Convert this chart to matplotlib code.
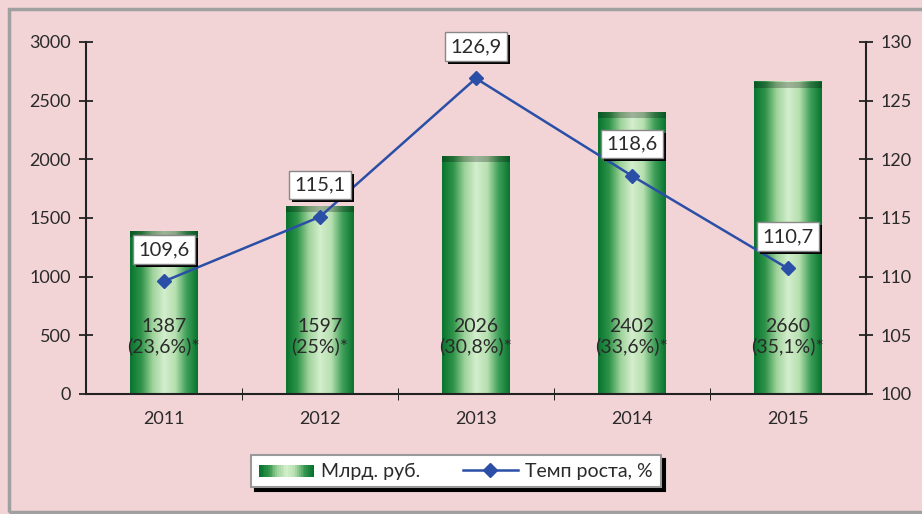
import numpy as np
import matplotlib
matplotlib.use("Agg")
import matplotlib.pyplot as plt
from matplotlib.colors import LinearSegmentedColormap
from matplotlib.patches import Rectangle
from matplotlib.lines import Line2D
from matplotlib.legend_handler import HandlerBase
import matplotlib.patheffects as pe

plt.rcParams['font.family'] = ['Lato', 'DejaVu Sans']

# данные
years = ['2011', '2012', '2013', '2014', '2015']
volume = [1387, 1597, 2026, 2402, 2660]          # Млрд. руб.
shares = ['(23,6%)*', '(25%)*', '(30,8%)*', '(33,6%)*', '(35,1%)*']
growth = [109.6, 115.1, 126.9, 118.6, 110.7]     # Темп роста, %
growth_labels = ['109,6', '115,1', '126,9', '118,6', '110,7']

bg = '#f2d4d6'
line_col = '#2b4fa6'
text_col = '#2a2a2a'
green = LinearSegmentedColormap.from_list(
    'cyl', ['#08742f', '#2f9449', '#9ed29a', '#d4eecd', '#b6e0b0', '#3f9f58', '#08742f'])
grad = green(np.linspace(0, 1, 256))[np.newaxis, :, :]


class GradHandler(HandlerBase):
    def create_artists(self, legend, orig, xd, yd, w, h, fs, trans):
        n = 30
        arts = []
        for i in range(n):
            r = Rectangle((xd + w * i / n, yd - h * 0.05), w / n + 0.3, h * 0.9,
                          facecolor=green(i / (n - 1)), edgecolor='none', transform=trans)
            arts.append(r)
        return arts


fig = plt.figure(figsize=(9.22, 5.14), dpi=100, facecolor=bg)
ax1 = fig.add_axes([0.0933, 0.2335, 0.8457, 0.6848])
ax1.set_facecolor(bg)
ax2 = ax1.twinx()

x = np.arange(len(years))
w = 0.43
bars = ax1.bar(x, volume, width=w, color='none', edgecolor='none', zorder=2)
cap = grad.copy()
cap[..., :3] *= 0.75
for b in bars:
    x0 = b.get_x()
    ax1.imshow(grad, extent=(x0, x0 + b.get_width(), 0, b.get_height()),
               aspect='auto', zorder=2)
    top = b.get_height()
    ax1.imshow(cap, extent=(x0, x0 + b.get_width(), top - 50, top),
               aspect='auto', zorder=2)

for xi, v, s in zip(x, volume, shares):
    ax1.text(xi, 490, f'{v}\n{s}', ha='center', va='center', fontsize=14,
             color=text_col, linespacing=1.15, zorder=3)

ax1.set_xlim(-0.5, 4.5)
ax1.set_ylim(0, 3000)
ax1.set_yticks(np.arange(0, 3001, 500))
ax1.set_xticks(x)
ax1.set_xticklabels(years)
ax1.set_xticks(np.arange(0.5, 4, 1), minor=True)

ax2.plot(x, growth, color=line_col, lw=1.8, marker='D', markersize=7, zorder=3)
ax2.set_ylim(100, 130)
ax2.set_yticks(np.arange(100, 131, 5))

for xi, g, lab in zip(x, growth, growth_labels):
    t = ax2.annotate(lab, (xi, g), xytext=(0, 23), textcoords='offset points',
                     ha='center', va='center', fontsize=14.5, color=text_col, zorder=5,
                     bbox=dict(boxstyle='square,pad=0.28', fc='white', ec='#888888', lw=1))
    t.get_bbox_patch().set_path_effects([
        pe.SimplePatchShadow(offset=(2.2, -2.2), shadow_rgbFace='black', alpha=1),
        pe.Normal()])

for ax in (ax1, ax2):
    for sp in ax.spines.values():
        sp.set_color('#222222')
        sp.set_linewidth(1.5)
    ax.spines['top'].set_visible(False)
    ax.tick_params(colors='#222222', labelcolor=text_col, labelsize=13, width=1.3)
ax1.spines['right'].set_visible(False)
ax2.spines['left'].set_visible(False)
ax2.spines['bottom'].set_visible(False)
ax1.tick_params(axis='y', direction='inout', length=9.5, pad=6)
ax2.tick_params(axis='y', direction='inout', length=9.5, pad=6)
ax1.tick_params(axis='x', which='major', length=0, pad=12)
ax1.tick_params(axis='x', which='minor', direction='inout', length=9)

handles = [Rectangle((0, 0), 1, 1),
           Line2D([], [], color=line_col, lw=1.8, marker='D', markersize=7)]
leg = fig.legend(handles, ['Млрд. руб.', 'Темп роста, %'], loc='center',
                 bbox_to_anchor=(456 / 922, 1 - 471 / 514), ncol=2, fontsize=14,
                 handler_map={Rectangle: GradHandler()}, handlelength=2.8,
                 handletextpad=0.4, columnspacing=2.2, fancybox=False, borderpad=0.4,
                 shadow={'color': 'black', 'alpha': 1, 'ox': 3, 'oy': -3},
                 framealpha=1, edgecolor='#999999', facecolor='white')
leg.get_frame().set_linewidth(1.5)
for t in leg.get_texts():
    t.set_color(text_col)

fig.patches.append(Rectangle((9 / 922, 1 - 512 / 514), 1.0, 1 - 9 / 514 - (1 - 512 / 514),
                             transform=fig.transFigure, fill=False,
                             edgecolor='#a0a0a0', lw=2.5))

fig.savefig('out.png', dpi=100, facecolor=bg)
